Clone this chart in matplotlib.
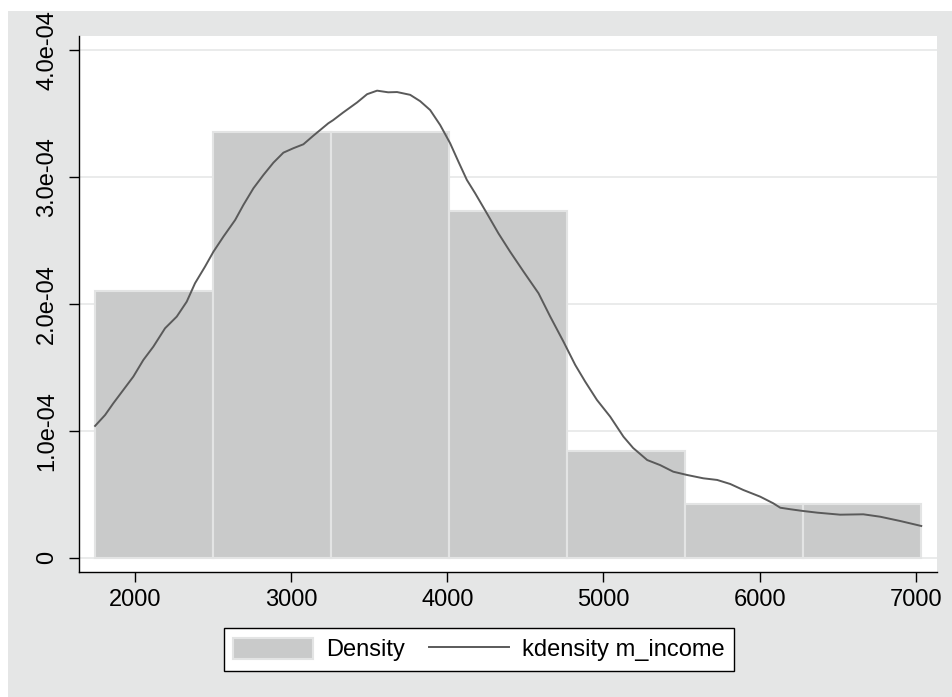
import matplotlib
matplotlib.use("Agg")
import matplotlib.pyplot as plt
from matplotlib.patches import Rectangle

plt.rcParams['font.family'] = ['Liberation Sans', 'DejaVu Sans']

# histogram (density scale)
bin_edges = [1744, 2500, 3256, 4012, 4768, 5524, 6279, 7035]
bin_heights = [2.10e-4, 3.36e-4, 3.36e-4, 2.73e-4, 0.84e-4, 0.42e-4, 0.42e-4]

# kernel density of m_income
kde_x = [1744, 1808, 1861, 1925, 1989, 2053, 2117, 2192, 2267, 2331, 2384, 2448,
         2502, 2566, 2641, 2694, 2758, 2822, 2886, 2950, 3014, 3078, 3142, 3238,
         3268, 3332, 3422, 3486, 3550, 3621, 3678, 3762, 3826, 3890, 3954, 4018,
         4071, 4125, 4178, 4253, 4327, 4402, 4488, 4584, 4659, 4744, 4819, 4883,
         4958, 5043, 5128, 5190, 5280, 5363, 5447, 5536, 5639, 5728, 5812, 5895,
         6004, 6087, 6132, 6196, 6279, 6369, 6516, 6664, 6772, 6901, 7035]
kde_y = [1.039, 1.125, 1.218, 1.323, 1.428, 1.559, 1.664, 1.809, 1.901, 2.019, 2.164, 2.295,
         2.413, 2.532, 2.663, 2.782, 2.913, 3.018, 3.115, 3.194, 3.229, 3.260, 3.328, 3.426,
         3.450, 3.510, 3.590, 3.655, 3.683, 3.670, 3.672, 3.650, 3.600, 3.530, 3.412, 3.268,
         3.123, 2.979, 2.874, 2.716, 2.558, 2.413, 2.256, 2.085, 1.901, 1.703, 1.520, 1.388,
         1.244, 1.112, 0.954, 0.865, 0.770, 0.730, 0.678, 0.652, 0.626, 0.613, 0.581, 0.534,
         0.481, 0.429, 0.394, 0.382, 0.368, 0.355, 0.339, 0.342, 0.323, 0.289, 0.250]
kde_y = [v * 1e-4 for v in kde_y]

x_ticks = [2000, 3000, 4000, 5000, 6000, 7000]
y_ticks = [0, 1e-4, 2e-4, 3e-4, 4e-4]
y_labels = ['0', '1.0e-04', '2.0e-04', '3.0e-04', '4.0e-04']

bg = '#e5e6e6'
bar_col = '#c9caca'
bar_edge = '#e3e4e4'
line_col = '#5a5a5a'

fig = plt.figure(figsize=(9.52, 6.97), dpi=100, facecolor='white')
fig.patches.append(Rectangle((8 / 952, 0), 944 / 952, 686 / 697,
                             transform=fig.transFigure, facecolor=bg,
                             edgecolor='none', zorder=-10))

ax = fig.add_axes([79 / 952, 1 - 572 / 697, (937 - 79) / 952, (572 - 36) / 697])
ax.set_facecolor('white')

widths = [bin_edges[i + 1] - bin_edges[i] for i in range(len(bin_heights))]
bars = ax.bar(bin_edges[:-1], bin_heights, width=widths, align='edge',
              color=bar_col, edgecolor=bar_edge, linewidth=1.5, zorder=2,
              label='Density')
line, = ax.plot(kde_x, kde_y, color=line_col, linewidth=1.4, zorder=3,
                label='kdensity m_income')

ax.set_xlim(1641, 7136)
ax.set_ylim(-0.113e-4, 4.114e-4)
ax.set_xticks(x_ticks)
ax.set_yticks(y_ticks)
ax.set_yticklabels(y_labels, rotation=90, va='center')
ax.yaxis.grid(True, color='#e6e7e7', linewidth=1.2, zorder=0)
ax.set_axisbelow(True)

for s in ['top', 'right']:
    ax.spines[s].set_visible(False)
for s in ['left', 'bottom']:
    ax.spines[s].set_linewidth(1.0)
    ax.spines[s].set_color('black')
ax.tick_params(axis='both', length=7, width=1.0, labelsize=17, pad=5)
ax.tick_params(axis='y', pad=8)

leg = fig.legend([bars, line], ['Density', 'kdensity m_income'],
                 loc='center', bbox_to_anchor=(479 / 952, 1 - 649.5 / 697), ncol=2,
                 frameon=True, fancybox=False, edgecolor='black', fontsize=17,
                 handlelength=3.4, handleheight=1.0, handletextpad=0.55,
                 columnspacing=1.0, borderpad=0.4, framealpha=1)
leg.get_frame().set_linewidth(1.0)

fig.savefig('out.png', dpi=100, facecolor=fig.get_facecolor())
